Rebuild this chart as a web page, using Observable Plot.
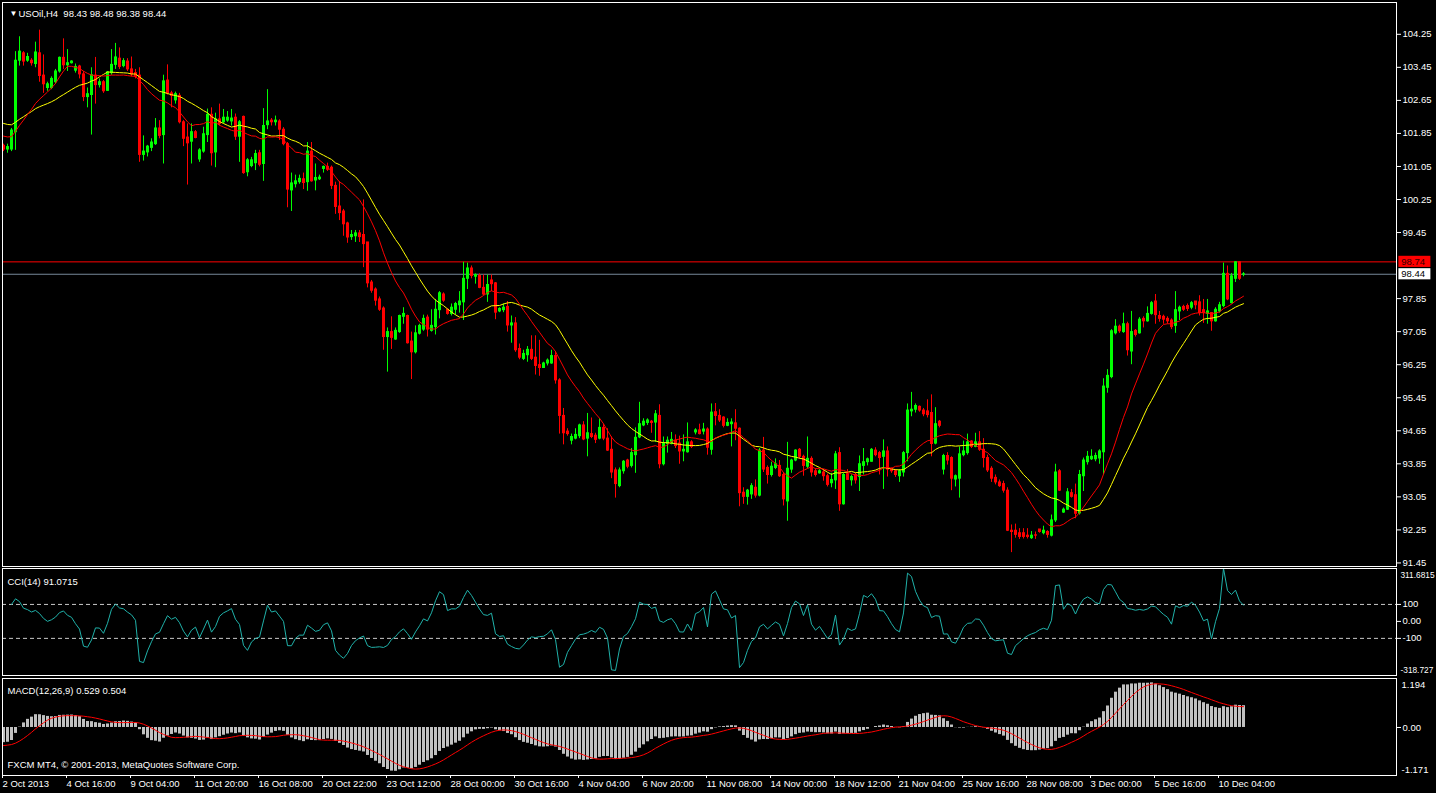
<!DOCTYPE html>
<html><head><meta charset="utf-8">
<script src="https://cdn.jsdelivr.net/npm/d3@7"></script>
<script src="https://cdn.jsdelivr.net/npm/@observablehq/plot@0.6"></script>
<style>
html,body{margin:0;padding:0;background:#000;width:1436px;height:793px;overflow:hidden;}
.panel{position:absolute;left:0;}
#main{top:0}#cci{top:567px}#macd{top:676px}
</style></head><body>
<div id="main" class="panel"></div><div id="cci" class="panel"></div><div id="macd" class="panel"></div>
<script>
// USOil H4 candles (open, high, low, close)
const O=[101.55,101.46,101.46,101.88,103.61,103.79,103.61,103.61,103.53,103.79,103.25,102.95,102.95,103.09,103.35,103.68,103.50,103.55,103.37,103.47,
103.28,102.73,102.78,103.25,103.02,103.09,102.88,103.31,103.51,103.66,103.48,103.59,103.40,103.31,103.25,101.33,101.39,101.50,101.59,101.97,
101.81,103.13,102.82,102.65,102.76,102.12,101.75,101.65,101.88,101.22,101.41,101.81,102.30,101.39,102.19,102.12,102.16,102.14,102.23,101.77,
102.25,100.91,101.06,101.13,101.37,101.11,102.05,102.16,102.12,102.14,101.94,101.59,100.47,100.62,100.67,100.74,100.67,101.41,100.71,100.74,
100.99,101.04,101.02,100.58,100.08,99.96,99.67,99.34,99.36,99.43,99.39,99.21,98.24,98.07,97.83,97.61,96.92,97.04,96.86,97.04,
97.41,97.43,96.81,96.55,97.00,97.10,97.39,97.07,97.16,97.57,97.95,97.58,97.48,97.58,97.69,97.76,98.33,98.58,98.38,98.40,
98.11,97.95,98.29,98.22,97.54,97.57,97.65,97.20,97.25,96.63,96.39,96.48,96.61,96.42,96.24,96.17,96.28,96.28,96.46,95.87,
95.01,94.63,94.41,94.46,94.52,94.78,94.46,94.57,94.53,94.46,94.72,94.46,94.19,93.69,93.31,93.67,93.93,93.80,94.06,94.49,
94.78,94.84,94.87,94.85,95.01,93.84,94.33,94.33,94.41,94.34,94.15,94.13,94.37,94.61,94.66,94.63,94.68,94.19,95.10,95.01,
94.97,94.77,94.81,94.83,94.70,93.15,93.05,93.11,93.27,93.08,94.17,93.75,93.58,93.75,93.80,93.58,92.94,93.71,93.93,94.19,
94.02,93.78,93.97,93.67,93.62,93.64,93.55,93.38,93.45,94.11,92.87,93.60,93.45,93.58,93.53,93.80,93.89,93.90,94.17,94.11,
94.02,94.15,93.73,93.67,93.55,93.64,94.11,95.12,95.16,95.23,95.14,95.12,95.08,94.34,94.87,93.71,94.04,93.99,93.47,93.49,
94.06,94.11,94.39,94.26,94.37,94.19,93.99,93.73,93.51,93.40,93.36,93.20,92.23,92.23,92.17,92.17,92.11,92.05,92.12,92.26,
92.17,92.20,92.11,92.48,93.67,92.67,92.74,93.14,93.09,92.65,93.55,93.89,93.96,93.96,93.98,94.13,95.69,95.95,97.01,97.17,
97.04,97.23,96.57,97.07,97.01,97.36,97.30,97.48,97.78,97.43,97.41,97.36,97.32,97.19,97.54,97.65,97.67,97.63,97.78,97.76,
97.57,97.48,97.50,97.30,97.54,97.67,98.45,97.74,98.33,98.73,98.43];
const H=[101.59,101.59,101.97,103.83,104.19,103.83,103.79,103.66,104.06,104.35,103.75,103.09,103.22,103.40,103.70,104.14,103.88,103.61,103.53,103.50,
103.35,102.95,103.44,103.69,103.17,103.13,103.35,103.88,104.03,103.92,103.66,103.66,103.70,103.40,103.44,101.79,101.56,101.72,102.21,102.16,
103.26,103.51,102.87,102.85,102.82,102.16,102.08,102.08,101.92,101.48,102.00,102.44,102.47,102.34,102.56,102.43,102.38,102.43,102.32,102.16,
102.27,101.24,101.27,101.44,101.44,102.45,102.91,102.21,102.27,102.18,101.99,101.63,100.89,100.84,100.84,100.89,101.63,101.63,101.11,100.84,
101.06,101.13,101.06,100.67,100.68,100.01,99.70,99.50,99.50,99.50,100.24,99.21,98.29,98.11,97.89,97.65,97.14,97.41,97.14,97.45,
97.63,97.45,97.04,97.19,97.23,97.45,97.45,97.58,97.83,98.02,97.99,97.60,97.72,97.76,98.02,98.73,98.71,98.64,98.45,98.45,
98.42,98.42,98.42,98.24,97.63,97.72,97.78,97.43,97.39,96.75,96.60,96.69,96.95,96.95,96.84,96.31,96.39,96.60,96.57,95.91,
95.19,94.70,94.57,94.70,94.81,94.87,95.07,94.96,94.59,94.94,94.81,94.70,94.50,93.75,93.75,93.93,93.96,94.22,94.72,95.34,
94.94,94.94,94.90,95.14,95.28,94.50,94.50,94.61,94.55,94.52,94.55,94.84,94.41,94.70,94.81,94.83,94.72,95.30,95.31,95.16,
94.99,94.94,94.94,95.16,94.72,93.27,93.23,93.37,93.46,94.22,94.49,93.80,93.89,93.97,93.93,93.64,94.37,93.96,94.19,94.22,
94.06,94.50,94.02,93.73,93.71,93.71,93.60,93.62,94.15,94.24,93.62,93.71,93.58,93.62,94.04,94.22,93.99,94.22,94.24,94.15,
94.43,94.26,93.75,93.71,93.71,94.15,95.30,95.58,95.30,95.25,95.19,95.40,95.52,95.21,94.90,94.08,94.12,94.02,93.58,94.26,
94.40,94.57,94.41,94.59,94.63,94.46,94.06,93.78,93.58,93.46,93.43,93.27,92.37,92.39,92.28,92.28,92.28,92.21,92.20,92.26,
92.34,92.23,92.61,93.84,93.71,92.78,93.25,93.23,93.36,93.69,93.99,94.15,94.19,94.11,94.19,95.91,96.13,97.10,97.34,97.21,
97.50,97.28,97.54,97.10,97.39,97.41,97.65,97.78,97.95,97.54,97.45,97.41,97.36,98.02,97.67,97.69,97.72,97.78,97.78,97.92,
97.83,97.83,97.51,97.63,97.76,98.71,98.64,98.46,98.74,98.74,98.48];
const L=[101.41,101.37,101.41,101.44,103.48,103.48,103.57,103.48,103.44,103.09,102.82,102.87,102.91,103.04,103.31,103.40,103.35,103.53,103.31,103.17,
102.62,102.47,101.81,102.56,102.95,102.82,102.87,103.26,103.40,103.40,103.44,103.35,103.22,103.17,101.15,101.18,101.28,101.41,101.56,101.72,
101.11,102.78,102.47,102.56,102.08,101.53,100.60,101.11,101.72,101.15,101.37,101.63,101.06,101.02,102.03,102.08,102.12,102.03,101.68,101.15,
100.86,100.80,101.02,100.95,101.04,100.69,101.94,102.03,102.03,101.68,101.55,100.05,99.96,100.53,100.62,100.49,100.45,100.67,100.46,100.71,
100.89,100.93,100.49,99.89,99.74,99.36,99.19,99.26,99.21,99.21,98.60,98.11,97.98,97.67,97.54,96.60,96.07,96.62,96.84,97.01,
97.23,96.75,95.89,96.51,96.97,97.06,96.92,97.04,96.97,97.36,97.76,97.45,97.43,97.45,97.50,97.32,98.07,98.33,98.20,98.09,
97.92,97.76,98.02,97.34,97.51,97.51,97.04,96.77,96.55,96.37,96.35,96.31,96.35,96.00,95.97,96.16,96.22,96.26,95.78,94.57,
94.31,94.52,94.31,94.43,94.46,94.41,94.02,94.46,94.34,94.43,94.41,94.15,93.49,93.02,93.27,93.60,93.73,93.75,93.62,94.46,
94.75,94.78,94.59,94.37,93.73,93.80,94.11,94.31,94.22,93.84,93.90,94.11,94.22,94.55,94.55,94.55,94.06,94.06,94.77,94.85,
94.72,94.75,94.26,94.41,92.81,92.87,92.85,92.99,93.02,93.05,93.64,93.36,93.53,93.71,93.52,92.83,92.46,93.62,93.90,93.96,
93.55,93.73,93.53,93.53,93.60,93.43,93.29,93.27,93.23,92.70,92.85,93.45,93.31,93.36,93.18,93.58,93.80,93.89,94.02,93.58,
93.23,93.53,93.62,93.52,93.40,93.53,93.90,94.99,95.08,95.10,94.99,94.96,94.02,94.31,94.72,93.58,93.82,93.20,93.29,93.02,
94.02,94.06,94.22,94.24,94.15,93.75,93.64,93.40,93.34,93.28,93.14,92.21,91.70,92.05,92.02,92.03,92.03,92.02,92.02,92.17,
92.13,92.05,92.08,92.43,93.18,92.65,92.72,93.02,92.52,92.61,93.18,93.82,93.93,93.90,93.84,93.58,95.56,95.91,96.97,97.01,
97.01,96.46,96.25,96.92,96.99,97.14,97.28,97.45,97.23,97.28,97.23,97.23,97.10,97.01,97.32,97.54,97.54,97.58,97.58,97.43,
97.25,97.23,97.06,97.28,97.50,97.63,97.80,97.72,98.24,98.29,98.38];
const C=[101.46,101.52,101.92,103.61,103.83,103.59,103.70,103.55,103.81,103.24,103.04,103.04,103.17,103.35,103.68,103.50,103.55,103.59,103.46,103.28,
102.73,102.80,103.26,103.02,103.09,102.87,103.33,103.51,103.69,103.46,103.60,103.40,103.28,103.22,101.33,101.41,101.53,101.63,101.97,101.79,
103.11,102.82,102.76,102.80,102.12,101.72,101.61,101.88,101.74,101.44,101.83,102.30,101.37,102.19,102.08,102.23,102.23,102.21,101.77,102.12,
100.89,101.20,101.20,101.35,101.09,102.03,102.14,102.12,102.16,101.94,101.59,100.49,100.64,100.69,100.75,100.65,101.41,100.69,100.77,100.78,
101.04,100.97,100.58,100.07,99.92,99.65,99.33,99.39,99.43,99.34,99.17,98.22,98.04,97.80,97.58,96.92,97.04,96.90,97.07,97.43,
97.48,96.77,96.55,97.01,97.19,97.36,97.10,97.19,97.58,97.98,97.80,97.48,97.63,97.72,97.78,98.33,98.58,98.40,98.42,98.11,
97.95,98.18,98.20,97.51,97.60,97.63,97.20,97.25,96.60,96.42,96.51,96.61,96.39,96.22,96.17,96.28,96.35,96.46,95.87,95.01,
94.59,94.57,94.50,94.55,94.78,94.44,94.59,94.50,94.43,94.72,94.46,94.17,93.64,93.36,93.69,93.90,93.78,94.11,94.48,94.81,
94.87,94.90,94.84,95.05,93.84,94.33,94.41,94.43,94.28,94.15,94.19,94.37,94.26,94.66,94.57,94.68,94.24,95.09,95.01,94.90,
94.77,94.84,94.85,94.70,93.14,93.05,93.20,93.31,93.08,94.17,93.71,93.58,93.78,93.84,93.55,92.99,93.73,93.93,94.17,94.02,
93.80,93.97,93.64,93.58,93.67,93.55,93.34,93.46,94.08,92.87,93.58,93.46,93.53,93.45,93.84,93.89,93.96,94.19,94.06,93.99,
94.15,93.71,93.67,93.58,93.67,94.11,95.14,95.16,95.25,95.14,95.05,95.03,94.33,94.81,94.77,94.04,93.93,93.49,93.55,94.08,
94.15,94.37,94.26,94.37,94.19,93.99,93.69,93.49,93.40,93.31,93.20,92.23,92.20,92.13,92.08,92.08,92.08,92.11,92.11,92.20,
92.23,92.13,92.48,93.64,93.20,92.74,93.16,93.05,92.64,93.58,93.93,94.02,94.02,94.04,94.15,95.72,95.98,97.06,97.17,97.06,
97.23,96.60,97.04,96.97,97.34,97.30,97.48,97.74,97.45,97.36,97.34,97.30,97.16,97.57,97.63,97.58,97.60,97.74,97.69,97.50,
97.50,97.54,97.30,97.58,97.69,98.45,97.83,98.39,98.73,98.33,98.44];

// time axis labels, one every 16 bars
const timeLabels=["2 Oct 2013","4 Oct 16:00","9 Oct 04:00","11 Oct 20:00","16 Oct 08:00","20 Oct 22:00","23 Oct 12:00","28 Oct 00:00",
"30 Oct 16:00","4 Nov 04:00","6 Nov 20:00","11 Nov 08:00","14 Nov 00:00","18 Nov 12:00","21 Nov 04:00","25 Nov 16:00",
"28 Nov 08:00","3 Dec 00:00","5 Dec 16:00","10 Dec 04:00"];
const priceTicks=[104.25,103.45,102.65,101.85,101.05,100.25,99.45,97.85,97.05,96.25,95.45,94.65,93.85,93.05,92.25,91.45];
const lineLevel=98.74, bidLevel=98.44;
const cciRange=[-318.727,311.6815], cciLevels=[100,-100];
const macdRange=[-1.171,1.194];
// indicator values at the left edge (state carried from earlier history)
const maStartFast=101.81, maStartSlow=102.12;
const emaStart12=101.80, emaStart26=102.17, signalStart=-0.45;
const header="USOil,H4\u00a0\u00a098.43 98.48 98.38 98.44";
const cciTitle="CCI(14) 91.0715";
const macdTitle="MACD(12,26,9) 0.529 0.504";
const copyright="FXCM MT4, \u00a9 2001-2013, MetaQuotes Software Corp.";

const bars=C.map((c,i)=>({i,o:O[i],h:H[i],l:L[i],c,top:Math.max(O[i],c),bot:Math.min(O[i],c)}));
const UP="#00ff00", DN="#ff0000";

// indicators derived from the candles
function sma(a,n,start){return a.map((_,i)=>{let s=0;for(let j=i-n+1;j<=i;j++)s+=j<0?start:a[j];return s/n;});}
function ema(a,n,start){const k=2/(n+1);let e=start;return a.map(v=>(e=v*k+e*(1-k)));}
const maFast=sma(C,14,maStartFast), maSlow=sma(C,24,maStartSlow);
const e12=ema(C,12,emaStart12), e26=ema(C,26,emaStart26);
const macd=C.map((_,i)=>e12[i]-e26[i]);
const signal=sma(macd,9,signalStart);
const tp=C.map((c,i)=>(H[i]+L[i]+c)/3);
const cci=tp.map((v,i)=>{
  if(i<2) return NaN;
  const w=tp.slice(Math.max(0,i-13),i+1), m=d3.mean(w), md=d3.mean(w,x=>Math.abs(x-m));
  return md? (v-m)/(0.015*md) : 0;
});
const ind=C.map((_,i)=>({i,fast:maFast[i],slow:maSlow[i],macd:macd[i],signal:signal[i],cci:cci[i]}));

const XD=[-0.25,348.25];
const W=1436, ML=2, MR=40;
const font="'Liberation Sans', Arial, sans-serif";
const style={background:"transparent",color:"white",fontFamily:font,fontSize:"9.5px",overflow:"visible"};
const XE=XD[1];

const main=Plot.plot({
  width:W,height:568,marginTop:2,marginBottom:2,marginLeft:ML,marginRight:MR,style,
  x:{type:"linear",domain:XD,axis:null},
  y:{domain:[91.364,105.02],axis:null},
  color:{type:"identity"},
  marks:[
    Plot.ruleY([lineLevel],{stroke:"#ff0000"}),
    Plot.ruleY([bidLevel],{stroke:"#778899"}),
    Plot.ruleX(bars,{x:"i",y1:"h",y2:"l",stroke:d=>d.c>=d.o?UP:DN}),
    Plot.ruleX(bars,{x:"i",y1:"top",y2:"bot",stroke:d=>d.c>=d.o?UP:DN,strokeWidth:3,insetTop:-0.5,insetBottom:-0.5}),
    Plot.lineY(ind,{x:"i",y:"slow",stroke:"#ffff00",strokeWidth:1}),
    Plot.lineY(ind,{x:"i",y:"fast",stroke:"#ff0000",strokeWidth:1}),
    Plot.axisY({anchor:"right",ticks:priceTicks,tickFormat:d3.format(".2f"),tickSize:4,tickPadding:2,textAnchor:"start",label:null}),
    Plot.rect([lineLevel],{x1:()=>XE+0.6,x2:()=>XE+8.6,y1:d=>d+0.135,y2:d=>d-0.135,fill:"#ff0000"}),
    Plot.text([lineLevel],{x:()=>XE+1.2,y:d=>d,text:d=>d.toFixed(2),textAnchor:"start",fill:"#300"}),
    Plot.rect([bidLevel],{x1:()=>XE+0.6,x2:()=>XE+8.6,y1:d=>d+0.135,y2:d=>d-0.135,fill:"#ffffff"}),
    Plot.text([bidLevel],{x:()=>XE+1.2,y:d=>d,text:d=>d.toFixed(2),textAnchor:"start",fill:"#000"}),
    Plot.frame({stroke:"white"}),
    Plot.text(["\u25bc"],{frameAnchor:"top-left",dx:7,dy:8,fontSize:8,fill:"white"}),
    Plot.text([header],{frameAnchor:"top-left",dx:16,dy:8,textAnchor:"start",fill:"white"})
  ]
});
document.getElementById("main").append(main);

const cciPlot=Plot.plot({
  width:W,height:110,marginTop:1,marginBottom:2,marginLeft:ML,marginRight:MR,style,
  x:{type:"linear",domain:XD,axis:null},
  y:{domain:cciRange,axis:null},
  marks:[
    Plot.ruleY(cciLevels,{stroke:"#c8c8c8",strokeDasharray:"4,3"}),
    Plot.lineY(ind,{x:"i",y:"cci",stroke:"#20b2aa",strokeWidth:1,clip:true}),
    Plot.frame({stroke:"white"}),
    Plot.axisY({anchor:"right",ticks:[100,0,-100],tickFormat:d=>d===0?"0.00":String(d),tickSize:4,tickPadding:2,textAnchor:"start",label:null}),
    Plot.text([cciRange[1]],{x:()=>XE,y:d=>d,dx:4,dy:7,fontSize:8.3,text:d=>String(d),textAnchor:"start",fill:"white"}),
    Plot.text([cciRange[0]],{x:()=>XE,y:d=>d,dx:4,dy:-5,fontSize:8.3,text:d=>String(d),textAnchor:"start",fill:"white"}),
    Plot.text([cciTitle],{frameAnchor:"top-left",dx:5,dy:10,textAnchor:"start",fill:"white"})
  ]
});
document.getElementById("cci").append(cciPlot);

const macdPlot=Plot.plot({
  width:W,height:117,marginTop:2,marginBottom:18,marginLeft:ML,marginRight:MR,style,
  x:{type:"linear",domain:XD,axis:null},
  y:{domain:macdRange,axis:null},
  marks:[
    Plot.ruleX(ind,{x:"i",y1:0,y2:"macd",stroke:"#c0c0c0",strokeWidth:3,clip:true}),
    Plot.lineY(ind,{x:"i",y:"signal",stroke:"#ff0000",strokeWidth:1,clip:true}),
    Plot.frame({stroke:"white"}),
    Plot.axisY({anchor:"right",ticks:[0],tickFormat:()=>"0.00",tickSize:4,tickPadding:2,textAnchor:"start",label:null}),
    Plot.text([macdRange[1]],{x:()=>XE,y:d=>d,dx:5,dy:6,text:d=>String(d),textAnchor:"start",fill:"white"}),
    Plot.text([macdRange[0]],{x:()=>XE,y:d=>d,dx:5,dy:-6,text:d=>String(d),textAnchor:"start",fill:"white"}),
    Plot.axisX({ticks:timeLabels.map((_,k)=>k*16),tickFormat:d=>timeLabels[d/16],tickSize:3,tickPadding:2,textAnchor:"start",dx:-1,label:null}),
    Plot.text([macdTitle],{frameAnchor:"top-left",dx:5,dy:9,textAnchor:"start",fill:"white"}),
    Plot.text([copyright],{frameAnchor:"bottom-left",dx:5,dy:-8,textAnchor:"start",fill:"white"})
  ]
});
document.getElementById("macd").append(macdPlot);
</script>
</body></html>
